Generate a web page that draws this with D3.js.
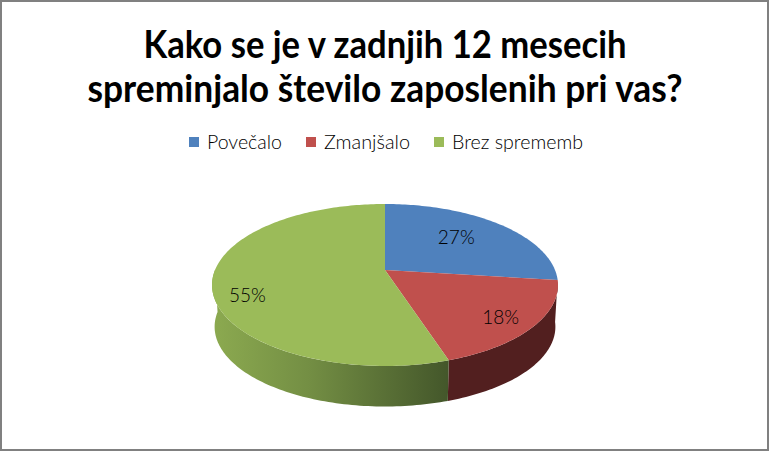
<!DOCTYPE html>
<html>
<head>
<meta charset="utf-8">
<script src="https://cdn.jsdelivr.net/npm/d3@7"></script>
<style>
  html, body { margin: 0; padding: 0; background: #fff; }
  svg { display: block; }
  text { font-family: Lato, "Open Sans", sans-serif; fill: #000; }
</style>
</head>
<body>
<div id="chart"></div>
<script>
const categories = ['Povečalo', 'Zmanjšalo', 'Brez sprememb'];
const shares = [27, 18, 55];
const percentLabels = ['27%', '18%', '55%'];
const titleLines = ['Kako se je v zadnjih 12 mesecih', 'spreminjalo število zaposlenih pri vas?'];

const colors = ['#4F81BD', '#C0504D', '#9BBB59'];

const width = 769;
const height = 451;

const svg = d3.select('#chart').append('svg')
    .attr('width', width)
    .attr('height', height);

// frame
svg.append('rect')
    .attr('x', 1).attr('y', 1)
    .attr('width', width - 2).attr('height', height - 2)
    .attr('fill', '#fff')
    .attr('stroke', '#808080')
    .attr('stroke-width', 2);

// title
const titleWidths = [483, 595];
svg.selectAll('.title')
    .data(titleLines)
    .join('text')
    .attr('class', 'title')
    .attr('x', 385)
    .attr('y', (d, i) => 58 + i * 44)
    .attr('text-anchor', 'middle')
    .attr('textLength', (d, i) => titleWidths[i])
    .attr('lengthAdjust', 'spacingAndGlyphs')
    .style('font-size', '38px')
    .style('font-weight', 700)
    .text(d => d);

// legend
const legendX = [189, 306, 434];
const legendWidths = [75, 86, 131];
const legend = svg.selectAll('.legend')
    .data(categories)
    .join('g')
    .attr('class', 'legend')
    .attr('transform', (d, i) => `translate(${legendX[i]},137)`);

legend.append('rect')
    .attr('width', 10)
    .attr('height', 10)
    .attr('fill', (d, i) => colors[i]);

legend.append('text')
    .attr('x', 18)
    .attr('y', 12)
    .attr('textLength', (d, i) => legendWidths[i])
    .attr('lengthAdjust', 'spacingAndGlyphs')
    .style('font-size', '20px')
    .style('font-weight', 300)
    .text(d => d);

// pie: flat disc pushed through a perspective projection
const cx = 385;
const apexY = 270;
const radiusX = 170;
const radiusY = 78.2;
const skew = 0.185;
const depth = 42;
const bottomScale = 0.985;

function project(angle, r = 1) {
    const u = Math.sin(angle) * r;
    const v = -Math.cos(angle) * r;
    const w = 1 - skew * v;
    return [cx + radiusX * u / w, apexY + radiusY * v / w];
}

function projectBottom(angle) {
    const p = project(angle);
    return [cx + (p[0] - cx) * bottomScale, apexY + (p[1] - apexY) * bottomScale + depth];
}

const pie = d3.pie().sort(null).value(d => d);
const slices = pie(shares);
const line = d3.line();

function arcAngles(a0, a1) {
    const n = Math.max(2, Math.ceil((a1 - a0) / 0.02));
    return d3.range(n + 1).map(i => a0 + (a1 - a0) * i / n);
}

// outer wall of a slice, only the part that faces the viewer
function wallPath(a0, a1) {
    const angles = arcAngles(a0, a1);
    return line(angles.map(a => project(a)).concat(angles.slice().reverse().map(a => projectBottom(a)))) + 'Z';
}

const defs = svg.append('defs');
const greenWall = defs.append('linearGradient')
    .attr('id', 'greenWall')
    .attr('gradientUnits', 'userSpaceOnUse')
    .attr('x1', 212).attr('x2', 450)
    .attr('y1', 0).attr('y2', 0);
greenWall.append('stop').attr('offset', 0).attr('stop-color', '#8CAA50');
greenWall.append('stop').attr('offset', 0.4).attr('stop-color', '#748F44');
greenWall.append('stop').attr('offset', 1).attr('stop-color', '#43562A');

const wallAngle = Math.PI / 2;
const wallFills = ['none', '#521F1F', 'url(#greenWall)'];

svg.selectAll('.wall')
    .data(slices)
    .join('path')
    .attr('class', 'wall')
    .attr('d', d => {
        const a0 = Math.max(d.startAngle, wallAngle);
        const a1 = Math.min(d.endAngle, 1.5 * Math.PI);
        return a1 > a0 ? wallPath(a0, a1) : null;
    })
    .attr('fill', (d, i) => wallFills[i]);

svg.selectAll('.slice')
    .data(slices)
    .join('path')
    .attr('class', 'slice')
    .attr('d', d => line([[cx, apexY]].concat(arcAngles(d.startAngle, d.endAngle).map(a => project(a)))) + 'Z')
    .attr('fill', (d, i) => colors[i]);

// data labels
const labelRadius = [0.6, 0.8, 0.8];
const labelShift = [-4, 3, 15];
svg.selectAll('.pct')
    .data(slices)
    .join('text')
    .attr('class', 'pct')
    .attr('x', d => project((d.startAngle + d.endAngle) / 2, labelRadius[d.index])[0])
    .attr('y', d => project((d.startAngle + d.endAngle) / 2, labelRadius[d.index])[1] + labelShift[d.index])
    .attr('text-anchor', 'middle')
    .attr('dy', '0.35em')
    .style('font-size', '19px')
    .style('font-weight', 300)
    .text(d => percentLabels[d.index]);
</script>
</body>
</html>
